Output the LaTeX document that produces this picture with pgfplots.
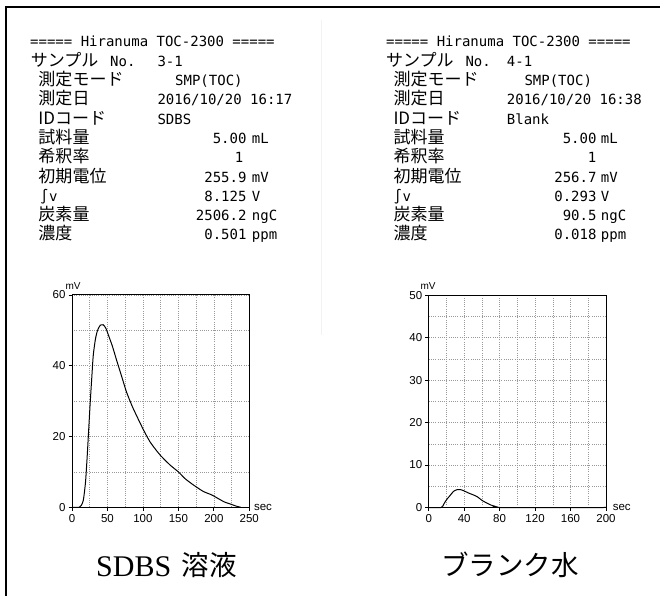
\documentclass[border=0pt]{standalone}
\usepackage{pgfplots}
\pgfplotsset{compat=1.18}
\usepackage{fontspec}
\setmainfont{Liberation Serif}
\newfontfamily\cjk{Noto Sans CJK JP}
\newfontfamily\mono{DejaVu Sans Mono}
\newfontfamily\lsans{Liberation Sans}
\newcommand\mt{\mono\fontsize{14bp}{14bp}\selectfont}
\newcommand\jt{\cjk\fontsize{17bp}{17bp}\selectfont}

\pgfplotsset{myax/.style={
  scale only axis, width=177.3bp, height=212.3bp, anchor=south west,
  axis line style={black, line width=1bp},
  grid=both,
  major grid style={gray!80, line width=0.6bp, dash pattern=on 0.8bp off 1.4bp},
  minor grid style={gray!80, line width=0.6bp, dash pattern=on 0.8bp off 1.4bp},
  tick align=outside, xtick pos=bottom, ytick pos=left,
  major tick length=3.5bp, minor tick length=0pt,
  tick style={black, line width=0.8bp},
  ticklabel style={font=\lsans\fontsize{11.5bp}{11.5bp}\selectfont},
  yticklabel style={xshift=0.5bp},
  /pgf/number format/assume math mode=true,
  clip=false}}

\begin{document}
\begin{tikzpicture}[x=1bp,y=1bp]
\path[use as bounding box] (0,0) rectangle (660,596);

% ---------- left chart ----------
\begin{axis}[myax, at={(72bp,88.7bp)},
  xmin=0, xmax=250, ymin=0, ymax=60,
  xtick={0,50,...,250}, minor xtick={25,75,...,225},
  ytick={0,20,40,60}, minor ytick={10,30,50}]
\addplot[black, line width=1bp, no marks, smooth, tension=0.4] coordinates {
(0,0) (10,0) (13,0.5) (16,2) (19,7) (21,13) (23,20) (25.5,29) (28,37) (30,43)
(33,47.5) (36,50) (40,51.5) (44,51.6) (48,50.5) (52,48.3) (57,45.5) (63,41.5)
(70,37) (77,32.5) (85,28.5) (92,25.5) (101,21.8) (110,18.5) (120,15.8) (125,14.6)
(138,12) (150,10) (160,8) (172,6.2) (185,4.5) (197,3.5) (205,2.6) (215,1.5)
(225,0.8) (232,0.3) (238,0)};
\end{axis}

% ---------- right chart ----------
\begin{axis}[myax, at={(428.7bp,88.5bp)},
  xmin=0, xmax=200, ymin=0, ymax=50,
  xtick={0,40,...,200}, minor xtick={20,60,...,180},
  ytick={0,10,...,50}, minor ytick={5,15,...,45}]
\addplot[black, line width=1bp, no marks, smooth, tension=0.4] coordinates {
(0,0) (14,0) (17,0.8) (20,1.8) (24,2.8) (28,3.8) (32,4.2) (36,4.2) (40,3.9)
(45,3.4) (50,3.0) (55,2.5) (60,1.7) (65,1.1) (70,0.6) (76,0.2) (80,0) (200,0)};
\end{axis}

\begin{scope}[y=-1bp, yshift=596bp]
\draw[line width=2bp] (6,597) -- (6,7.5) -- (661,7.5);
\draw[gray!10, line width=1bp] (321,20) -- (321,335);

\tikzset{T/.style={inner sep=0pt, anchor=base west}, E/.style={inner sep=0pt, anchor=base east}, C/.style={inner sep=0pt, anchor=base}}
\def\bA{47}\def\bB{66.3}\def\bC{85.6}\def\bD{104.9}\def\bE{124.2}\def\bF{143.5}
\def\bG{162.8}\def\bH{182.1}\def\bI{201.4}\def\bJ{220.7}\def\bK{240}

% ---------- left text block ----------
\node[T] at (30,\bA) {\mt ===== Hiranuma TOC-2300 =====};
\node[T] at (30.7,\bB) {\jt サンプル};
\node[T] at (110,\bB) {\mt No.};
\node[T] at (157.3,\bB) {\mt 3-1};
\node[T] at (38.3,\bC) {\jt 測定モード};
\node[T] at (175,\bC) {\mt SMP(TOC)};
\node[T] at (38.3,\bD) {\jt 測定日};
\node[T] at (157.3,\bD) {\mt 2016/10/20 16:17};
\node[T] at (38.3,\bE) {\jt IDコード};
\node[T] at (157.3,\bE) {\mt SDBS};
\node[T] at (38.3,\bF) {\jt 試料量};
\node[E] at (246.7,\bF) {\mt 5.00};
\node[T] at (251.7,\bF) {\mt mL};
\node[T] at (38.3,\bG) {\jt 希釈率};
\node[C] at (239,\bG) {\mt 1};
\node[T] at (38.3,\bH) {\jt 初期電位};
\node[E] at (246.7,\bH) {\mt 255.9};
\node[T] at (251.7,\bH) {\mt mV};
\node[T] at (40,\bI) {\mt ∫};
\node[T] at (49,\bI) {\mt v};
\node[E] at (246.7,\bI) {\mt 8.125};
\node[T] at (251.7,\bI) {\mt V};
\node[T] at (38.3,\bJ) {\jt 炭素量};
\node[E] at (246.7,\bJ) {\mt 2506.2};
\node[T] at (251.7,\bJ) {\mt ngC};
\node[T] at (38.3,\bK) {\jt 濃度};
\node[E] at (246.7,\bK) {\mt 0.501};
\node[T] at (251.7,\bK) {\mt ppm};

% ---------- right text block ----------
\node[T] at (386,\bA) {\mt ===== Hiranuma TOC-2300 =====};
\node[T] at (386,\bB) {\jt サンプル};
\node[T] at (465.3,\bB) {\mt No.};
\node[T] at (506.7,\bB) {\mt 4-1};
\node[T] at (393.3,\bC) {\jt 測定モード};
\node[T] at (524.3,\bC) {\mt SMP(TOC)};
\node[T] at (393.3,\bD) {\jt 測定日};
\node[T] at (506.7,\bD) {\mt 2016/10/20 16:38};
\node[T] at (393.3,\bE) {\jt IDコード};
\node[T] at (506.7,\bE) {\mt Blank};
\node[T] at (393.3,\bF) {\jt 試料量};
\node[E] at (596.7,\bF) {\mt 5.00};
\node[T] at (600.7,\bF) {\mt mL};
\node[T] at (393.3,\bG) {\jt 希釈率};
\node[C] at (592,\bG) {\mt 1};
\node[T] at (393.3,\bH) {\jt 初期電位};
\node[E] at (596.7,\bH) {\mt 256.7};
\node[T] at (600.7,\bH) {\mt mV};
\node[T] at (393.5,\bI) {\mt ∫};
\node[T] at (402.5,\bI) {\mt v};
\node[E] at (596.7,\bI) {\mt 0.293};
\node[T] at (600.7,\bI) {\mt V};
\node[T] at (393.3,\bJ) {\jt 炭素量};
\node[E] at (596.7,\bJ) {\mt 90.5};
\node[T] at (600.7,\bJ) {\mt ngC};
\node[T] at (393.3,\bK) {\jt 濃度};
\node[E] at (596.7,\bK) {\mt 0.018};
\node[T] at (600.7,\bK) {\mt ppm};

% ---------- axis unit labels ----------
\node[inner sep=0pt] at (73,286) {\lsans\fontsize{10bp}{10bp}\selectfont mV};
\node[inner sep=0pt] at (263,507) {\lsans\fontsize{11.5bp}{11.5bp}\selectfont sec};
\node[inner sep=0pt] at (428,286) {\lsans\fontsize{10bp}{10bp}\selectfont mV};
\node[inner sep=0pt] at (621.7,507) {\lsans\fontsize{11.5bp}{11.5bp}\selectfont sec};

% ---------- captions ----------
\node[T] at (96,576.7) {\fontsize{30bp}{30bp}\selectfont SDBS};
\node[T] at (181.7,575.5) {\cjk\fontsize{27.5bp}{27.5bp}\selectfont 溶液};
\node[C] at (510,575.5) {\cjk\fontsize{27.5bp}{27.5bp}\selectfont ブランク水};
\end{scope}
\end{tikzpicture}
\end{document}
